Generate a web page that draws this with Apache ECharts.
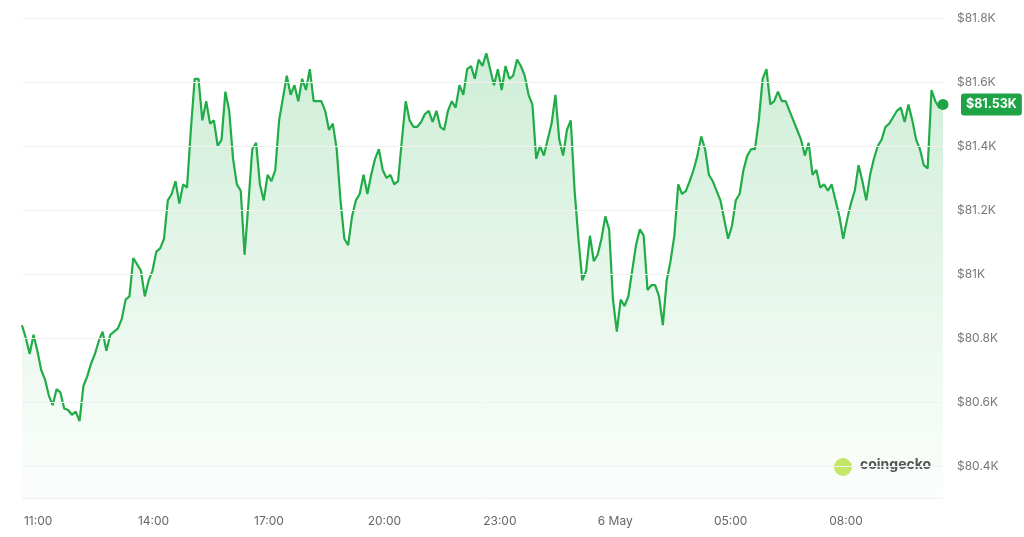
<!DOCTYPE html>
<html><head><meta charset="utf-8">
<script src="https://cdn.jsdelivr.net/npm/echarts@6/dist/echarts.min.js"></script>
<style>html,body{margin:0;background:#fff}#c{width:1024px;height:537px}</style>
</head><body><div id="c"></div>
<script>
const prices = [80.84,80.80,80.75,80.81,80.76,80.70,80.67,80.62,80.59,80.64,80.63,80.58,80.575,80.56,80.57,80.54,80.65,80.68,80.72,80.75,80.79,80.82,80.76,80.81,80.82,80.83,80.86,80.92,80.93,81.05,81.03,81.01,80.93,80.98,81.01,81.07,81.08,81.11,81.23,81.25,81.29,81.22,81.28,81.27,81.45,81.61,81.61,81.48,81.54,81.47,81.48,81.40,81.42,81.57,81.51,81.36,81.28,81.26,81.06,81.22,81.39,81.41,81.28,81.23,81.31,81.29,81.325,81.48,81.55,81.62,81.56,81.59,81.54,81.61,81.575,81.64,81.54,81.54,81.54,81.51,81.45,81.47,81.39,81.23,81.11,81.09,81.18,81.23,81.25,81.31,81.25,81.31,81.36,81.39,81.325,81.30,81.31,81.28,81.29,81.42,81.54,81.48,81.46,81.46,81.475,81.50,81.51,81.475,81.51,81.46,81.45,81.51,81.54,81.52,81.59,81.56,81.64,81.65,81.61,81.67,81.65,81.69,81.64,81.59,81.64,81.575,81.65,81.61,81.62,81.67,81.65,81.62,81.56,81.53,81.36,81.40,81.37,81.42,81.47,81.56,81.42,81.37,81.45,81.48,81.26,81.11,80.98,81.01,81.12,81.04,81.06,81.11,81.18,81.14,80.92,80.82,80.92,80.90,80.93,81.01,81.09,81.14,81.12,80.95,80.965,80.965,80.93,80.84,80.98,81.04,81.12,81.28,81.25,81.26,81.29,81.325,81.37,81.43,81.39,81.31,81.29,81.26,81.23,81.17,81.11,81.15,81.23,81.25,81.325,81.37,81.39,81.39,81.48,81.61,81.64,81.53,81.54,81.57,81.54,81.54,81.51,81.48,81.45,81.42,81.37,81.41,81.31,81.325,81.27,81.28,81.26,81.28,81.23,81.18,81.11,81.17,81.22,81.26,81.34,81.29,81.23,81.31,81.36,81.40,81.42,81.46,81.47,81.49,81.51,81.52,81.475,81.53,81.48,81.42,81.39,81.34,81.33,81.575,81.54,81.52,81.53];
const startHour = -0.42, endHour = 23.52; // hours relative to 11:00
const xTicks = [0,3,6,9,12,15,18,21];
const yTicks = [80.4,80.6,80.8,81.0,81.2,81.4,81.6,81.8];
const lastLabel = '$81.53K';

const step = (endHour - startHour) / (prices.length - 1);
const data = prices.map((p,i)=>[startHour + i*step, p]);
const fmtY = v => '$' + (Math.round(v*10)/10 === Math.round(v) ? Math.round(v) : v.toFixed(1)) + 'K';
const fmtX = h => { const t = (11 + h); if (t === 26) return '6 May'; const hh = t % 24; return (hh<10?'0':'')+hh+':00'; };

const chart = echarts.init(document.getElementById('c'));
chart.setOption({
  animation:false,
  grid:{left:22,right:81,top:18,bottom:39},
  xAxis:{type:'value',min:startHour,max:endHour,
    axisLine:{show:false},axisTick:{show:false},splitLine:{show:false},
    axisLabel:{customValues:xTicks,formatter:fmtX,color:'#666',fontSize:12,margin:17,fontFamily:'Inter'}},
  yAxis:{type:'value',position:'right',min:80.3,max:81.8,
    axisLine:{show:false},axisTick:{show:false},splitLine:{show:false},
    axisLabel:{customValues:yTicks,formatter:fmtY,color:'#777',fontSize:12,margin:14,fontFamily:'Inter'}},
  series:[{type:'line',data:data,symbol:'none',
    lineStyle:{color:'#22ac48',width:2.2},
    areaStyle:{color:new echarts.graphic.LinearGradient(0,0,0,1,[{offset:0,color:'rgba(40,180,80,0.32)'},{offset:1,color:'rgba(40,180,80,0.02)'}])},
    endLabel:{show:true,formatter:lastLabel,color:'#fff',backgroundColor:'#1ea446',borderRadius:3,padding:[5,5,4,5],fontSize:12.5,fontWeight:'bold',fontFamily:'Inter',offset:[10,0]},
    markPoint:{symbol:'circle',symbolSize:11,itemStyle:{color:'#1ea446'},label:{show:false},data:[{coord:data[data.length-1]}]},
    markLine:{silent:true,symbol:'none',label:{show:false},lineStyle:{color:'#f0f0f0',type:'solid',width:1},
      data:yTicks.map(v=>({yAxis:v})).concat([{yAxis:80.3}])}
  }],
  graphic:[
    {type:'circle',shape:{cx:843,cy:467,r:9},style:{fill:'#c8e86a'}},
    {type:'text',left:860,top:458,style:{text:'coingecko',font:'bold 14px Inter',fill:'#555'}}
  ]
});
</script></body></html>
